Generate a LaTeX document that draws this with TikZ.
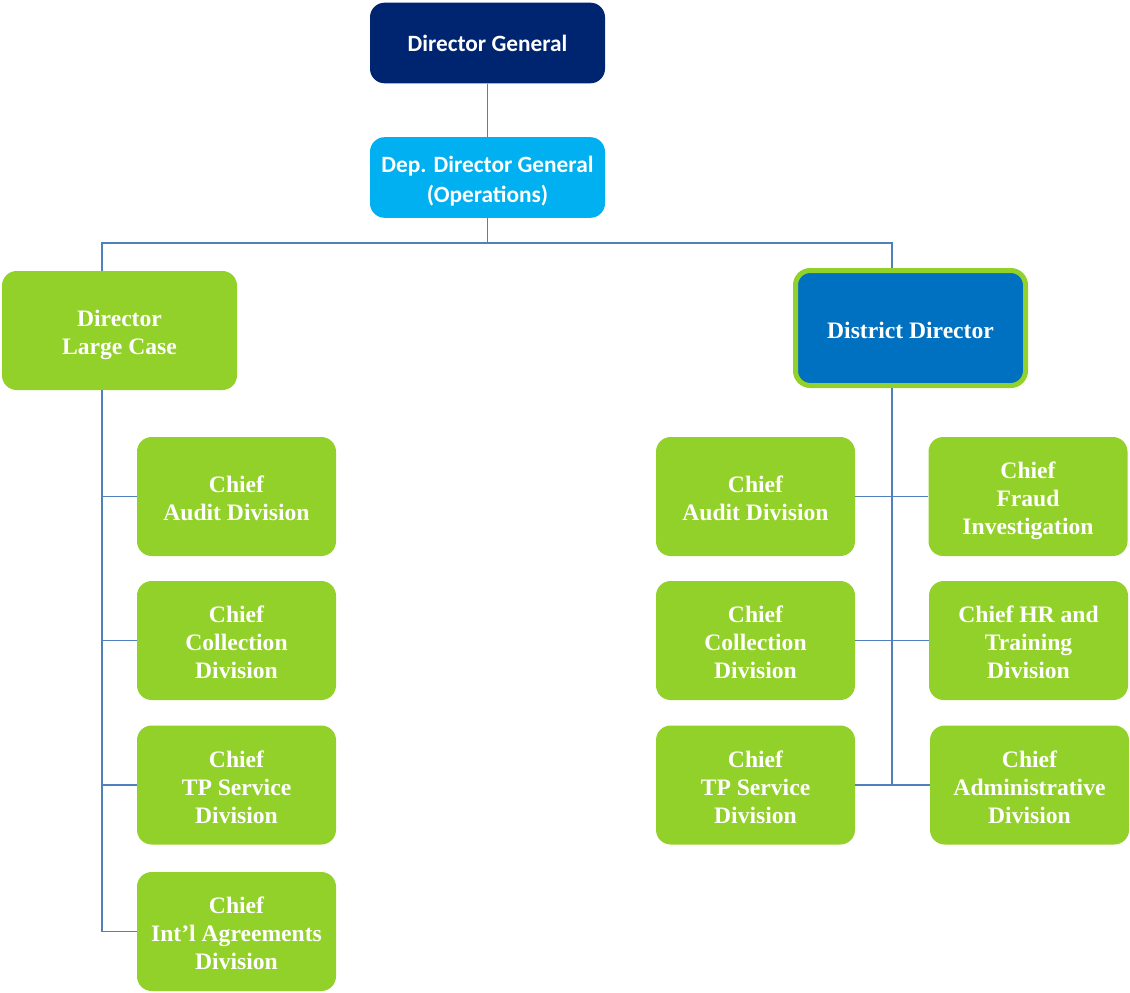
\documentclass[tikz,border=0pt]{standalone}
\usepackage{fontspec}
\setmainfont{Liberation Serif}
\newfontfamily\carlitofont{Carlito}
\definecolor{navy}{RGB}{0,37,112}
\definecolor{lightblue}{RGB}{0,176,240}
\definecolor{grn}{RGB}{146,208,42}
\definecolor{distblue}{RGB}{0,112,192}
\definecolor{linec}{RGB}{79,129,189}
\newcommand\dn[1]{\rule{0pt}{\dimexpr 12.2pt+#1\relax}}
\tikzset{
  box/.style={rounded corners=11pt, inner sep=0pt, text=white, align=center, anchor=center},
  sansbox/.style={box, minimum width=176.25pt, minimum height=60.5pt, font=\carlitofont\fontsize{17.5}{22.5}\selectfont\bfseries},
  dirbox/.style={box, fill=grn, minimum width=176.25pt, minimum height=89.25pt, font=\fontsize{17.7}{21}\selectfont\bfseries},
  chiefbox/.style={box, fill=grn, minimum width=149.25pt, minimum height=89.25pt, font=\fontsize{17.7}{21}\selectfont\bfseries},
  conn/.style={draw=linec, line width=1.4pt}
}
\begin{document}
\begin{tikzpicture}[x=0.75pt,y=-0.75pt]
\useasboundingbox (0,0) rectangle (1130,992);
% top
\node[sansbox, fill=navy] (dg) at (487.5,43) {Director General};
\node[sansbox, fill=lightblue] (ddg) at (487.5,177.5) {\dn{6pt}Dep. Director General\\(Operations)};
% directors
\node[dirbox] (lc) at (119.5,330.5) {\dn{6pt}Director\\Large Case};
\node[dirbox, fill=distblue, draw=grn, line width=3.75pt, minimum width=172.5pt, minimum height=86.25pt, execute at begin node={\rule{0pt}{16.5pt}}] (dd) at (910.5,328) {District Director};
% left chiefs
\node[chiefbox] (l1) at (236.5,496.5) {\dn{3pt}Chief\\Audit Division};
\node[chiefbox] (l2) at (236.5,640.5) {\dn{3pt}Chief\\Collection\\Division};
\node[chiefbox] (l3) at (236.5,785) {\dn{3pt}Chief\\TP Service\\Division};
\node[chiefbox] (l4) at (236.5,931.5) {\dn{3pt}Chief\\Int’l Agreements\\Division};
% right chiefs column 1
\node[chiefbox] (r1) at (755.5,496.5) {\dn{3pt}Chief\\Audit Division};
\node[chiefbox] (r2) at (755.5,640.5) {\dn{3pt}Chief\\Collection\\Division};
\node[chiefbox] (r3) at (755.5,785) {\dn{3pt}Chief\\TP Service\\Division};
% right chiefs column 2
\node[chiefbox] (s1) at (1028,496.5) {\dn{6pt}Chief\\Fraud\\Investigation};
\node[chiefbox] (s2) at (1028.5,640.5) {\dn{3pt}Chief HR and\\Training\\Division};
\node[chiefbox] (s3) at (1029.5,785) {\dn{3pt}Chief\\Administrative\\Division};
% coordinates
\coordinate (lt) at (102,271);
\coordinate (rt) at (892,268);
\coordinate (lb) at (102,390);
\coordinate (rb) at (892,388);
\coordinate (re) at (892,785);
% connectors
\draw[conn] (dg.south) -- (ddg.north);
\draw[conn] (ddg.south) -- ++(0,25) -| (lt);
\draw[conn] (ddg.south) -- ++(0,25) -| (rt);
\draw[conn] (lb) |- (l1.west);
\draw[conn] (lb) |- (l2.west);
\draw[conn] (lb) |- (l3.west);
\draw[conn] (lb) |- (l4.west);
\draw[conn] (rb) -- (re);
\draw[conn] (r1.east) -- (s1.west |- r1.east);
\draw[conn] (r2.east) -- (s2.west |- r2.east);
\draw[conn] (r3.east) -- (s3.west |- r3.east);
\end{tikzpicture}
\end{document}
